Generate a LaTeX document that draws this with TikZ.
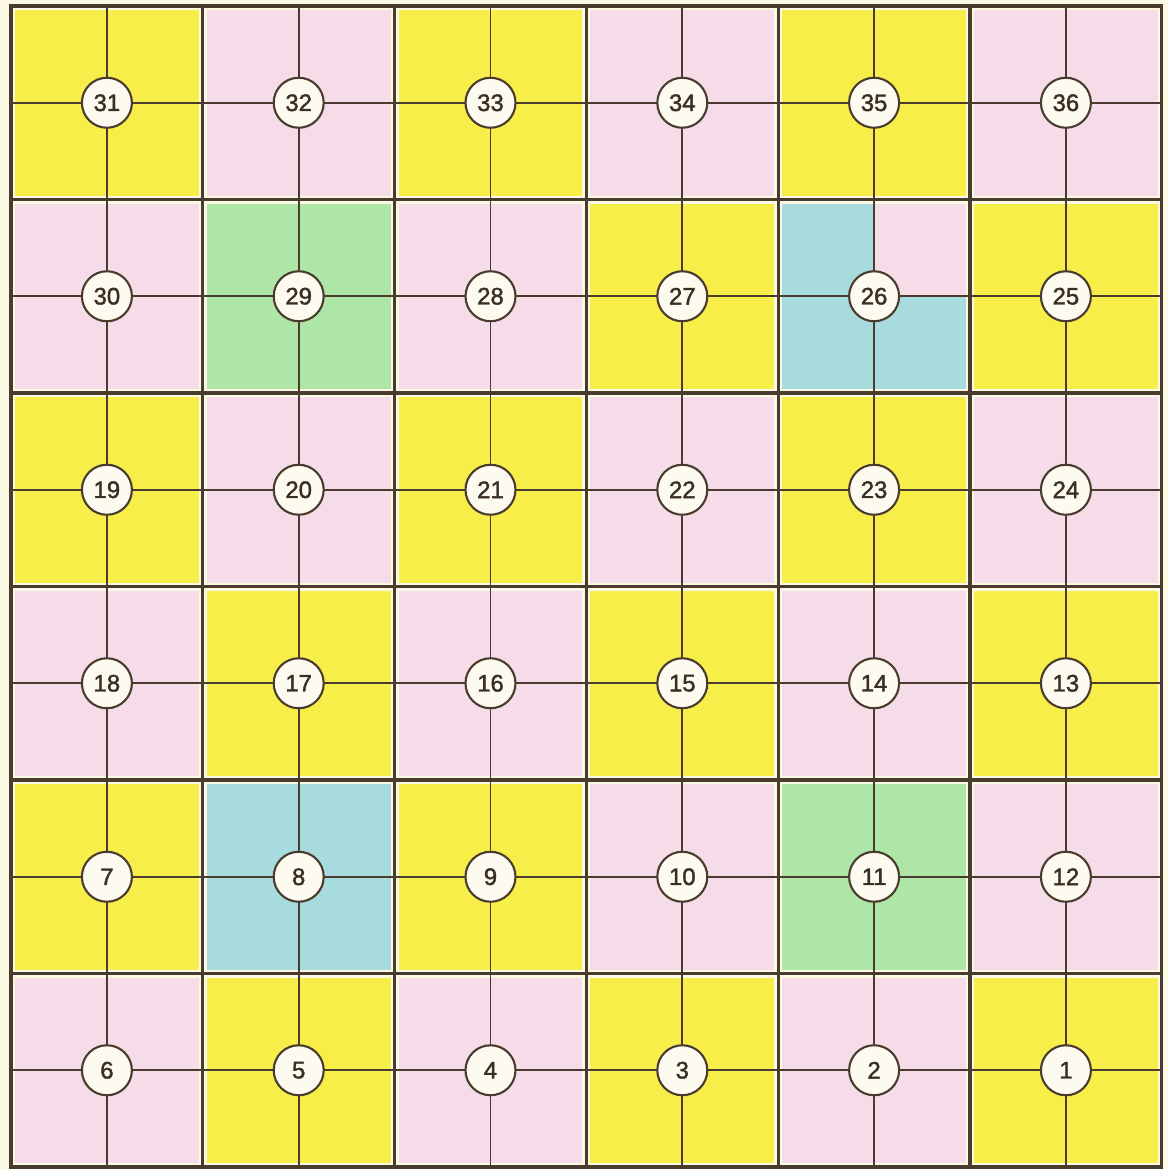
\documentclass[tikz,border=0pt]{standalone}
\usepackage{fontspec}
\setmainfont{Liberation Sans}
\newfontfamily\numfont{Liberation Sans}[FakeBold=1.6]
\definecolor{paper}{HTML}{FBF8E4}
\definecolor{cy}{HTML}{F8EE4A}
\definecolor{cp}{HTML}{F6DCE8}
\definecolor{cg}{HTML}{AEE6A8}
\definecolor{cb}{HTML}{A8DBDE}
\definecolor{ink}{HTML}{4A3B2F}
\definecolor{numink}{HTML}{3A2E25}
\tikzset{
  gridline/.style={draw=ink,line width=4.7pt,line cap=rect},
  crossline/.style={draw=ink,line width=2.6pt},
  numcircle/.style={circle,draw=ink,line width=3pt,fill=paper!60!white,minimum size=2.5cm,inner sep=0pt,font=\numfont\fontsize{34}{36}\selectfont,text=numink}
}
\begin{document}
\begin{tikzpicture}[x=0.05cm,y=-0.05cm]
\fill[paper] (0,0) rectangle (1168,1169);
\useasboundingbox (0,0) rectangle (1168,1169);
\def\xa{11}\def\dx{191.8}\def\ya{6}\def\dy{193.5}
% cell fills and cross lines
\foreach \clr/\num [count=\k from 0] in {
  cy/31,cp/32,cy/33,cp/34,cy/35,cp/36,
  cp/30,cg/29,cp/28,cy/27,cb/26,cy/25,
  cy/19,cp/20,cy/21,cp/22,cy/23,cp/24,
  cp/18,cy/17,cp/16,cy/15,cp/14,cy/13,
  cy/7,cb/8,cy/9,cp/10,cg/11,cp/12,
  cp/6,cy/5,cp/4,cy/3,cp/2,cy/1}{
  \pgfmathtruncatemacro\r{div(\k,6)}
  \pgfmathtruncatemacro\c{mod(\k,6)}
  \pgfmathsetmacro\xl{\xa+\c*\dx}
  \pgfmathsetmacro\yt{\ya+\r*\dy}
  \fill[\clr] (\xl+4,\yt+4) rectangle (\xl+\dx-4,\yt+\dy-4);
  \ifnum\num=26
    \fill[cp] (\xl+\dx/2,\yt+4) rectangle (\xl+\dx-4,\yt+\dy/2);
  \fi
  \coordinate (c\num) at (\xl+\dx/2,\yt+\dy/2);
  \coordinate (t\num) at (\xl+\dx/2,\yt);
  \coordinate (b\num) at (\xl+\dx/2,\yt+\dy);
  \coordinate (l\num) at (\xl,\yt+\dy/2);
  \coordinate (r\num) at (\xl+\dx,\yt+\dy/2);
  \draw[crossline] (t\num) -- (b\num);
  \draw[crossline] (l\num) -- (r\num);
}
% grid
\foreach \i in {0,...,6}{
  \draw[gridline] (\xa+\i*\dx,\ya) -- (\xa+\i*\dx,\ya+6*\dy);
  \draw[gridline] (\xa,\ya+\i*\dy) -- (\xa+6*\dx,\ya+\i*\dy);
}
% number circles
\foreach \num in {1,...,36}{
  \node[numcircle] (n\num) at (c\num) {\num};
}
\end{tikzpicture}
\end{document}
